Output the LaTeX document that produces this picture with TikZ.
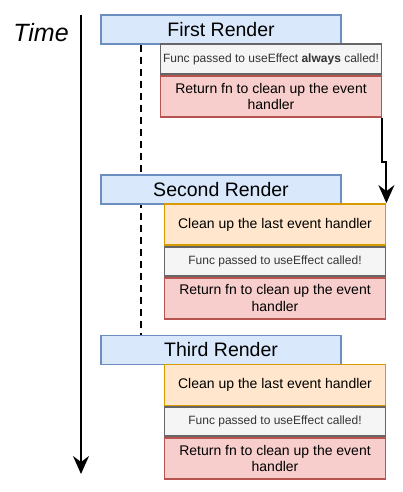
\documentclass[tikz,border=0pt]{standalone}
\usepackage{fontspec}
\setmainfont{Liberation Sans}
\usetikzlibrary{positioning,arrows.meta,backgrounds}
\definecolor{renderfill}{HTML}{DAE8FC}
\definecolor{renderline}{HTML}{6C8EBF}
\definecolor{effectfill}{HTML}{F5F5F5}
\definecolor{effectline}{HTML}{666666}
\definecolor{retfill}{HTML}{F8CECC}
\definecolor{retline}{HTML}{B85450}
\definecolor{cleanfill}{HTML}{FFE6CC}
\definecolor{cleanline}{HTML}{D79B00}
\definecolor{effecttext}{HTML}{333333}

\begin{document}
\begin{tikzpicture}[x=1pt,y=-1pt]
    \tikzset{render/.style={draw=renderline, fill=renderfill, line width=1.5pt, inner sep=0pt,
      minimum width=240pt, minimum height=29pt, font=\fontsize{19.5}{22}\selectfont}}
    \tikzset{effect/.style={draw=effectline, fill=effectfill, line width=1.8pt, inner sep=0pt,
      minimum width=221pt, minimum height=29pt, text=effecttext, font=\fontsize{12}{14}\selectfont}}
    \tikzset{retfn/.style={draw=retline, fill=retfill, line width=1.8pt, inner sep=0pt, align=center,
      minimum width=221pt, minimum height=41pt, font=\fontsize{14}{16.5}\selectfont}}
    \tikzset{cleanup/.style={draw=cleanline, fill=cleanfill, line width=1.8pt, inner sep=0pt,
      minimum width=221pt, minimum height=41pt, font=\fontsize{14}{16.5}\selectfont}}
    \tikzset{conn/.style={line width=2pt, -{Stealth[length=18pt,width=16pt,inset=6pt]}}}
    \useasboundingbox (0,0) rectangle (402,492);

    \coordinate (t0) at (81,15);
    \coordinate (t1) at (81,474);
    \coordinate (dx) at (141,0);
    \draw[conn] (t0) -- (t1);
    \node[anchor=base, font=\fontsize{25}{28}\selectfont\itshape] (time) at (41,42) {Time};

    \node[render] (r1) at (221,29.5) {First Render};
    \node[effect, minimum height=30pt] (f1) at (271,59) {Func passed to useEffect \textbf{always} called!};
    \node[retfn, below=0pt of f1] (c1) {Return fn to clean up the event\\handler};

    \node[render] (r2) at (221,189.5) {Second Render};
    \node[cleanup] (l2) at (275,224.5) {Clean up the last event handler};
    \node[effect, below=0pt of l2] (f2) {Func passed to useEffect called!};
    \node[retfn, below=0pt of f2] (c2) {Return fn to clean up the event\\handler};

    \node[render] (r3) at (221,350) {Third Render};
    \node[cleanup] (l3) at (275,385) {Clean up the last event handler};
    \node[effect, below=0pt of l3] (f3) {Func passed to useEffect called!};
    \node[retfn, below=0pt of f3] (c3) {Return fn to clean up the event\\handler};

    \begin{scope}[on background layer]
      \draw[line width=2pt, dash pattern=on 7pt off 5pt] (r1.south -| dx) -- ([yshift=-4pt]r3.north -| dx);
    \end{scope}
    \draw[conn] (c1.south east) -- ++(0,44) -| (l2.north east);
\end{tikzpicture}
\end{document}
